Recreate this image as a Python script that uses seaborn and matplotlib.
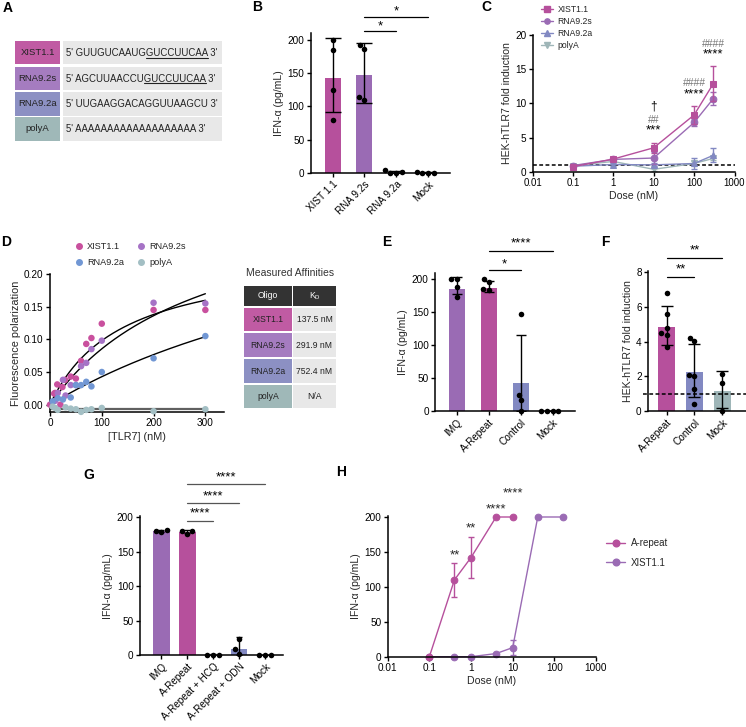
import numpy as np
import pandas as pd
import matplotlib
matplotlib.use("Agg")
import matplotlib.pyplot as plt
from matplotlib.lines import Line2D
from matplotlib.patches import Rectangle
from matplotlib.ticker import NullLocator, FormatStrFormatter
import seaborn as sns

# ---------------- data ----------------
# Panel A
A_oligos = ["XIST1.1", "RNA9.2s", "RNA9.2a", "polyA"]
A_seq_plain = ["GUUGUCAAUG", "AGCUUAACCU", "UUGAAGGACAGGUUAAGCU", "AAAAAAAAAAAAAAAAAAA"]
A_seq_under = ["GUCCUUCAA", "GUCCUUCAA", "", ""]

# Panel B
B_cats = ["XIST 1.1", "RNA 9.2s", "RNA 9.2a", "Mock"]
B_mean = [143, 147, 1.5, 0.5]
B_lo = [92, 105, 0, 0]
B_hi = [203, 196, 3.5, 1.5]
B_pts = [[200, 185, 125, 80], [187, 193, 110, 114], [0, 4, 1, 0], [0, 2, 0, 0]]

# Panel C
C_dose = [0.1, 1, 10, 100, 300]
C_names = ["XIST1.1", "RNA9.2s", "RNA9.2a", "polyA"]
C_xist = [0.73, 1.85, 3.5, 8.3, 12.9]
C_xist_sd = [0.25, 0.2, 0.7, 1.3, 2.6]
C_rs = [0.9, 1.8, 2.0, 7.2, 10.7]
C_rs_sd = [0.2, 0.25, 0.9, 0.45, 0.9]
C_ra = [0.8, 1.05, 1.0, 1.2, 2.4]
C_ra_sd = [0.2, 0.2, 0.3, 0.75, 1.0]
C_pa = [0.9, 1.5, 0.35, 1.2, 1.95]
C_pa_sd = [0.15, 0.2, 0.2, 0.3, 0.3]
C_annot_x = [10, 10, 10, 100, 100, 300, 300]
C_annot_y = [9.6, 7.6, 6.0, 13.0, 11.3, 18.7, 17.1]
C_annot_txt = ["†", "##", "***", "####", "****", "####", "****"]

# Panel D
D_xist_c = [0, 8, 10, 14, 20, 24, 29, 40, 50, 60, 70, 80, 100, 200, 300]
D_xist_fp = [0.0, 0.017, 0.018, 0.031, 0.0, 0.027, 0.038, 0.043, 0.040, 0.067, 0.093, 0.102, 0.124, 0.145, 0.145]
D_rs_c = [10, 15, 25, 30, 40, 50, 60, 70, 80, 100, 200, 300]
D_rs_fp = [0.006, 0.018, 0.038, 0.014, 0.030, 0.030, 0.059, 0.064, 0.085, 0.098, 0.156, 0.155]
D_ra_c = [5, 15, 25, 40, 50, 60, 70, 80, 100, 200, 300]
D_ra_fp = [0.005, 0.010, 0.008, 0.011, 0.030, 0.030, 0.035, 0.028, 0.050, 0.071, 0.105]
D_pa_c = [5, 10, 15, 30, 40, 50, 60, 70, 80, 100, 200, 300]
D_pa_fp = [-0.003, -0.005, -0.008, -0.004, -0.006, -0.007, -0.011, -0.008, -0.007, -0.005, -0.010, -0.007]
D_kd = [137.5, 291.9, 752.4]
D_bmax = [0.233, 0.335, 0.365]
D_pa_fit = -0.006
D_kd_text = ["137.5 nM", "291.9 nM", "752.4 nM", "N/A"]

# Panel E
E_cats = ["IMQ", "A-Repeat", "Control", "Mock"]
E_mean = [186, 187, 42, 0.3]
E_lo = [177, 180, 0, 0]
E_hi = [203, 198, 116, 0.5]
E_pts = [[200, 200, 188, 173], [200, 196, 185, 183], [148, 25, 17, 0], [0, 0, 0, 0]]

# Panel F
F_cats = ["A-Repeat", "Control", "Mock"]
F_mean = [4.87, 2.25, 1.17]
F_lo = [3.8, 0.8, 0.15]
F_hi = [6.05, 3.85, 2.33]
F_pts = [[6.83, 5.62, 4.51, 4.78, 4.38, 3.7], [4.03, 4.24, 2.0, 2.07, 1.25, 0.4], [2.13, 1.6, 0.02]]

# Panel G
G_cats = ["IMQ", "A-Repeat", "A-Repeat + HCQ", "A-Repeat + ODN", "Mock"]
G_mean = [180, 179, 0.5, 9, 0.3]
G_lo = [179, 177, 0, 0, 0]
G_hi = [181, 181, 1, 26, 0.5]
G_pts = [[179, 182, 180], [176, 180, 180], [0, 0, 0], [2, 8, 23], [0, 0, 0]]

# Panel H
H_ar_dose = [0.1, 0.4, 1, 4, 10]
H_ar_val = [0, 110, 142, 200, 200]
H_ar_sd = [0, 24, 29, 0, 0]
H_xi_dose = [0.1, 0.4, 1, 4, 10, 40, 160]
H_xi_val = [0, 0, 0, 4.5, 13, 200, 200]
H_xi_sd = [0, 0, 0, 1, 10.5, 0, 0]
H_annot_x = [0.4, 1, 4, 10]
H_annot_y = [145, 184, 211, 234]
H_annot_txt = ["**", "**", "****", "****"]

# ---------------- style ----------------
MAG = "#B6509C"
PUR = "#9A6BB4"
BLU = "#8289C2"
GRY = "#9FB6B8"
A_cols = ["#C05BA3", "#A57CC0", "#8C90C3", "#9FB8B8"]
D_cols = ["#C9509E", "#A673C6", "#7197D4", "#A3BFC4"]
STAR_FS = 9.5

sns.set_theme(style="ticks")
plt.rcParams["font.family"] = ["Liberation Sans", "DejaVu Sans"]
plt.rcParams["axes.linewidth"] = 1.1
plt.rcParams["xtick.major.width"] = 1.0
plt.rcParams["ytick.major.width"] = 1.0
plt.rcParams["xtick.major.size"] = 3
plt.rcParams["ytick.major.size"] = 3
plt.rcParams["xtick.labelsize"] = 7.2
plt.rcParams["ytick.labelsize"] = 7.2
plt.rcParams["axes.labelsize"] = 7.6
plt.rcParams["xtick.major.pad"] = 1.5
plt.rcParams["ytick.major.pad"] = 1.5
plt.rcParams["axes.labelpad"] = 2.5

W, H = 746, 727
fig = plt.figure(figsize=(W / 100, H / 100), dpi=100)


def px_axes(x0, y0, x1, y1):
    return fig.add_axes([x0 / W, 1 - y1 / H, (x1 - x0) / W, (y1 - y0) / H])


def finish(ax):
    sns.despine(ax=ax)
    ax.spines["left"].set_color("black")
    ax.spines["bottom"].set_color("black")
    ax.tick_params(colors="black")


def bar_panel(ax, cats, means, lo, hi, pts, colors, width, capsize, psize=4.0):
    sns.barplot(x=cats, y=means, hue=cats, order=cats, hue_order=cats, palette=colors,
                width=width, saturation=1, errorbar=None, legend=False, ax=ax, linewidth=0)
    m = np.array(means, float)
    yerr = np.vstack([m - np.array(lo, float), np.array(hi, float) - m])
    ax.errorbar(np.arange(len(cats)), m, yerr=yerr, fmt="none", ecolor="black",
                elinewidth=1, capsize=capsize, capthick=1, zorder=3)
    long = pd.DataFrame({"cat": np.repeat(cats, [len(p) for p in pts]),
                         "val": np.concatenate(pts)})
    sns.swarmplot(data=long, x="cat", y="val", order=cats, color="black", size=psize, ax=ax, zorder=4)
    for c in ax.collections:
        c.set_clip_on(False)
    ax.set_xlabel("")
    ax.set_xticks(range(len(cats)))
    ax.set_xticklabels(cats, rotation=45, ha="right", rotation_mode="anchor")


def sig(ax, x1, x2, yline, ytext, txt, color="black", fs=STAR_FS):
    ax.plot([x1, x2], [yline, yline], color=color, lw=0.9, clip_on=False)
    ax.text((x1 + x2) / 2, ytext, txt, ha="center", va="center", fontsize=fs, clip_on=False, color="black")


# ---------------- Panel B ----------------
axB = px_axes(310.7, 33.3, 450, 173)
bar_panel(axB, B_cats, B_mean, B_lo, B_hi, B_pts, [MAG, PUR, BLU, GRY], 0.5, 6)
axB.set_xlim(-0.69, 3.69)
axB.set_ylim(0, 210)
axB.set_yticks([0, 50, 100, 150, 200])
axB.set_ylabel("IFN-α (pg/mL)")
finish(axB)
sig(axB, 1, 2, 213, 221, "*")
sig(axB, 1, 3, 235, 243, "*")

# ---------------- Panel C ----------------
axC = px_axes(532.5, 35, 734.5, 171.7)
axC.set_xscale("log")
C_sets = [(C_pa, C_pa_sd, GRY, "v"), (C_ra, C_ra_sd, BLU, "^"), (C_rs, C_rs_sd, PUR, "o"), (C_xist, C_xist_sd, MAG, "s")]
for y, sd, col, mk in C_sets:
    sns.lineplot(x=C_dose, y=y, color=col, marker=mk, markersize=4.8, markeredgecolor=col,
                 linewidth=1, ax=axC, legend=False)
    axC.errorbar(C_dose, y, yerr=sd, fmt="none", ecolor=col, elinewidth=1, capsize=2.2, capthick=1)
axC.axhline(1, color="black", lw=1.1, ls=(0, (2.5, 1.6)), zorder=1)
axC.set_xlim(0.01, 1000)
axC.set_ylim(0, 20)
axC.set_xticks([0.01, 0.1, 1, 10, 100, 1000])
axC.set_xticklabels(["0.01", "0.1", "1", "10", "100", "1000"])
axC.tick_params(axis="x", labelsize=6.9)
axC.xaxis.set_minor_locator(NullLocator())
axC.set_yticks([0, 5, 10, 15, 20])
axC.set_xlabel("Dose (nM)")
axC.set_ylabel("HEK-hTLR7 fold induction")
finish(axC)
for x, y, t in zip(C_annot_x, C_annot_y, C_annot_txt):
    if t.startswith("#"):
        axC.text(x, y, t, ha="center", va="center", fontsize=7.5, color="#777777", clip_on=False)
    elif t.startswith("*"):
        axC.text(x, y, t, ha="center", va="center", fontsize=STAR_FS, color="black", clip_on=False)
    else:
        axC.text(x, y, t, ha="center", va="center", fontsize=8.5, color="black", clip_on=False)
C_handles = [Line2D([], [], color=c, marker=m, markersize=3.8, lw=1) for _, _, c, m in C_sets[::-1]]
axC.legend(C_handles, C_names, loc="upper left", bbox_to_anchor=(541 / W, 1 - 5 / H),
           bbox_transform=fig.transFigure, frameon=False, fontsize=6.2, handlelength=1.4,
           handletextpad=0.5, labelspacing=0.35, borderaxespad=0, borderpad=0)

# ---------------- Panel D ----------------
axD = px_axes(50, 274, 224, 412)
xs = np.linspace(0, 300, 200)
for kd, bm in zip(D_kd, D_bmax):
    sns.lineplot(x=xs, y=bm * xs / (kd + xs), color="black", lw=1, ax=axD, zorder=2)
sns.lineplot(x=[0, 300], y=[D_pa_fit, D_pa_fit], color="#606060", lw=1.6, ax=axD, zorder=2)
dfD = pd.DataFrame({
    "conc": D_xist_c + D_rs_c + D_ra_c + D_pa_c,
    "fp": D_xist_fp + D_rs_fp + D_ra_fp + D_pa_fp,
    "oligo": ["XIST1.1"] * len(D_xist_c) + ["RNA9.2s"] * len(D_rs_c) + ["RNA9.2a"] * len(D_ra_c) + ["polyA"] * len(D_pa_c),
})
sns.scatterplot(data=dfD, x="conc", y="fp", hue="oligo", hue_order=A_oligos, palette=D_cols,
                s=22, edgecolor="none", legend=False, ax=axD, zorder=3, clip_on=False)
axD.set_xlim(0, 336)
axD.set_ylim(-0.0112, 0.20)
axD.set_xticks([0, 100, 200, 300])
axD.set_yticks([0, 0.05, 0.10, 0.15, 0.20])
axD.yaxis.set_major_formatter(FormatStrFormatter("%.2f"))
axD.set_xlabel("[TLR7] (nM)", fontsize=7.8)
axD.set_ylabel("Fluorescence polarization", fontsize=7.8)
finish(axD)
D_order = [0, 2, 1, 3]
D_handles = [Line2D([], [], marker="o", ls="none", color=D_cols[i], markersize=4) for i in D_order]
axD.legend(D_handles, [A_oligos[i] for i in D_order], ncol=2, loc="upper left",
           bbox_to_anchor=(76 / W, 1 - 242 / H), bbox_transform=fig.transFigure, frameon=False,
           fontsize=6.6, handlelength=0.6, handletextpad=0.6, columnspacing=1.6,
           labelspacing=0.75, borderaxespad=0, borderpad=0)

# ---------------- Panel E ----------------
axE = px_axes(435, 272.7, 575, 411)
bar_panel(axE, E_cats, E_mean, E_lo, E_hi, E_pts, [PUR, MAG, BLU, GRY], 0.5, 3.8)
axE.set_xlim(-0.68, 3.7)
axE.set_ylim(0, 210)
axE.set_yticks([0, 50, 100, 150, 200])
axE.set_ylabel("IFN-α (pg/mL)")
finish(axE)
sig(axE, 1, 2, 214, 222, "*")
sig(axE, 1, 3, 243, 254, "****")

# ---------------- Panel F ----------------
axF = px_axes(648, 270.7, 746, 411)
bar_panel(axF, F_cats, F_mean, F_lo, F_hi, F_pts, [MAG, BLU, GRY], 0.6, 4)
axF.axhline(1, color="black", lw=1.1, ls=(0, (2.5, 1.6)), zorder=2.5, xmin=-0.05, clip_on=False)
axF.set_xlim(-0.67, 2.85)
axF.set_ylim(0, 8.1)
axF.set_yticks([0, 2, 4, 6, 8])
axF.set_ylabel("HEK-hTLR7 fold induction")
finish(axF)
sig(axF, 0, 1, 7.72, 8.15, "**")
sig(axF, 0, 2, 8.81, 9.25, "**")

# ---------------- Panel G ----------------
axG = px_axes(140, 516.3, 282.7, 655)
bar_panel(axG, G_cats, G_mean, G_lo, G_hi, G_pts, [PUR, MAG, MAG, BLU, GRY], 0.64, 2.5)
axG.set_xlim(-0.83, 4.68)
axG.set_ylim(0, 201.5)
axG.set_yticks([0, 50, 100, 150, 200])
axG.set_ylabel("IFN-α (pg/mL)")
finish(axG)
sig(axG, 1, 2, 195, 205, "****", color="#555555")
sig(axG, 1, 3, 221, 231, "****", color="#555555")
sig(axG, 1, 4, 248, 258, "****", color="#555555")

# ---------------- Panel H ----------------
axH = px_axes(387.7, 516.3, 596, 656.7)
axH.set_xscale("log")
sns.lineplot(x=H_xi_dose, y=H_xi_val, color=PUR, marker="o", markersize=4.8, markeredgecolor=PUR,
             lw=1, ax=axH, legend=False)
axH.errorbar(H_xi_dose, H_xi_val, yerr=H_xi_sd, fmt="none", ecolor=PUR, elinewidth=1, capsize=2.5, capthick=1)
sns.lineplot(x=H_ar_dose, y=H_ar_val, color=MAG, marker="o", markersize=4.8, markeredgecolor=MAG,
             lw=1, ax=axH, legend=False)
axH.errorbar(H_ar_dose, H_ar_val, yerr=H_ar_sd, fmt="none", ecolor=MAG, elinewidth=1, capsize=2.5, capthick=1)
for ln in axH.lines:
    ln.set_clip_on(False)
axH.set_xlim(0.01, 1000)
axH.set_ylim(0, 201)
axH.set_xticks([0.01, 0.1, 1, 10, 100, 1000])
axH.set_xticklabels(["0.01", "0.1", "1", "10", "100", "1000"])
axH.xaxis.set_minor_locator(NullLocator())
axH.set_yticks([0, 50, 100, 150, 200])
axH.set_xlabel("Dose (nM)")
axH.set_ylabel("IFN-α (pg/mL)")
finish(axH)
for x, y, t in zip(H_annot_x, H_annot_y, H_annot_txt):
    axH.text(x, y, t, ha="center", va="center", fontsize=STAR_FS, clip_on=False)
H_handles = [Line2D([], [], color=MAG, marker="o", markersize=4.8, lw=1),
             Line2D([], [], color=PUR, marker="o", markersize=4.8, lw=1)]
axH.legend(H_handles, ["A-repeat", "XIST1.1"], loc="upper left", bbox_to_anchor=(606 / W, 1 - 538 / H),
           bbox_transform=fig.transFigure, frameon=False, fontsize=7, handlelength=2.0,
           handletextpad=0.6, labelspacing=1.0, borderaxespad=0, borderpad=0)

# ---------------- overlay: tables & panel letters ----------------
ov = fig.add_axes([0, 0, 1, 1])
ov.set_xlim(0, W)
ov.set_ylim(H, 0)
ov.axis("off")
ov.patch.set_alpha(0)

renderer = fig.canvas.get_renderer()
rowsA = [(41, 64), (66.5, 90), (91.5, 115.5), (117, 140.5)]
for i, (name, (y0, y1)) in enumerate(zip(A_oligos, rowsA)):
    ov.add_patch(Rectangle((15, y0), 45, y1 - y0, color=A_cols[i], lw=0))
    ov.add_patch(Rectangle((63, y0), 159, y1 - y0, color="#E8E8E8", lw=0))
    yc = (y0 + y1) / 2
    ov.text(37.5, yc, name, ha="center", va="center", fontsize=6.8, color="#222222")
    full = "5' " + A_seq_plain[i] + A_seq_under[i] + " 3'"
    yb = yc + 3.6
    ov.text(66, yb, full, ha="left", va="baseline", fontsize=6.9, color="#222222")
    if A_seq_under[i]:
        t1 = ov.text(66, yb, "5' " + A_seq_plain[i], ha="left", va="baseline", fontsize=6.9)
        t2 = ov.text(66, yb, A_seq_under[i], ha="left", va="baseline", fontsize=6.9)
        w1 = t1.get_window_extent(renderer).width
        w2 = t2.get_window_extent(renderer).width
        t1.remove()
        t2.remove()
        ov.plot([66 + w1, 66 + w1 + w2], [yb + 1.5, yb + 1.5], color="#222222", lw=0.8)

# D table
ov.text(290, 273, "Measured Affinities", ha="center", va="center", fontsize=7.5, color="#333333")
ov.add_patch(Rectangle((244, 286), 48, 20, color="#333333", lw=0))
ov.add_patch(Rectangle((293, 286), 43, 20, color="#333333", lw=0))
ov.text(268, 296, "Oligo", ha="center", va="center", fontsize=6.2, color="white")
ov.text(314.5, 296, "K$_\\mathregular{D}$", ha="center", va="center", fontsize=6.2, color="white")
rowsD = [(308, 331), (333, 357), (359, 383), (385, 408)]
for i, (y0, y1) in enumerate(rowsD):
    ov.add_patch(Rectangle((244, y0), 48, y1 - y0, color=A_cols[i], lw=0))
    ov.add_patch(Rectangle((293, y0), 43, y1 - y0, color="#E8E8E8", lw=0))
    yc = (y0 + y1) / 2
    ov.text(268, yc, A_oligos[i], ha="center", va="center", fontsize=6.2, color="#222222")
    ov.text(314.5, yc, D_kd_text[i], ha="center", va="center", fontsize=6.2, color="#222222")

for lab, x, y in [("A", 3, 8), ("B", 252, 7), ("C", 481, 7), ("D", 1, 242), ("E", 382, 242),
                  ("F", 601, 242), ("G", 83, 475), ("H", 336, 472)]:
    ov.text(x, y, lab, ha="left", va="center", fontsize=10, fontweight="bold", color="black")

fig.savefig("out.png", dpi=100)
